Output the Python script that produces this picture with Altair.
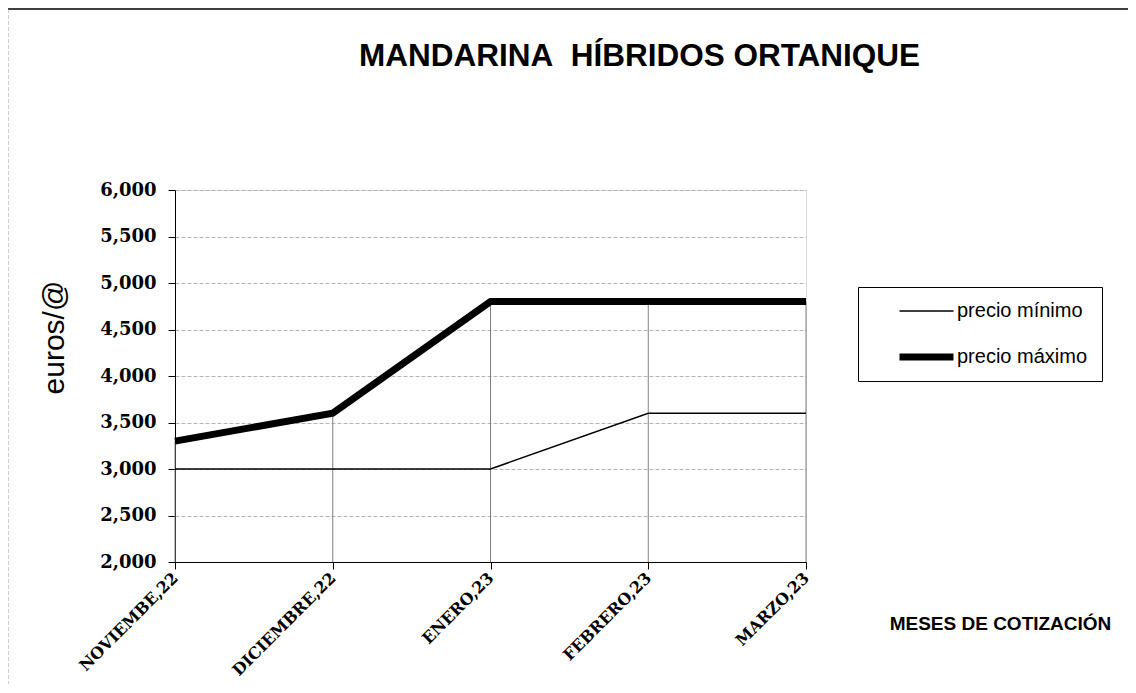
import altair as alt
import pandas as pd

meses = ["NOVIEMBE,22", "DICIEMBRE,22", "ENERO,23", "FEBRERO,23", "MARZO,23"]
precio_minimo = [3.0, 3.0, 3.0, 3.6, 3.6]
precio_maximo = [3.3, 3.6, 4.8, 4.8, 4.8]
series = ["precio mínimo", "precio máximo"]
y_ticks = [2.0, 2.5, 3.0, 3.5, 4.0, 4.5, 5.0, 5.5, 6.0]

rows = []
for s, vals in zip(series, [precio_minimo, precio_maximo]):
    for m, v in zip(meses, vals):
        rows.append({"serie": s, "mes": m, "valor": v})
df = pd.DataFrame(rows)
drop_df = pd.DataFrame({"mes": meses, "valor": precio_maximo})

x_enc = alt.X(
    "mes:N",
    sort=meses,
    scale=alt.Scale(type="point", padding=0),
    axis=alt.Axis(
        title="MESES DE COTIZACIÓN",
        titleX=825, titleY=61, titleAlign="center", titleBaseline="middle",
        titleFont="Liberation Sans", titleFontSize=19, titleFontWeight="bold",
        titleColor="black",
        labelAngle=315, labelAlign="right", labelBaseline="middle",
        labelFont="DejaVu Serif", labelFontWeight="bold", labelFontSize=16,
        labelColor="black", labelPadding=6,
        domainColor="black", tickColor="black", tickSize=7,
        grid=False,
    ),
)
y_scale = alt.Scale(domain=[2.0, 6.0], nice=False, zero=False)
y_axis = alt.Axis(
    values=y_ticks,
    labelExpr="replace(format(datum.value, '.3f'), '.', ',')",
    labelFont="DejaVu Serif", labelFontWeight="bold", labelFontSize=18,
    labelColor="black", labelPadding=12,
    domainColor="black", tickColor="black", tickSize=7,
    grid=True, gridColor="#b4b4b4", gridDash=[4, 2],
    title="euros/@", titleX=-121, titleY=147, titleAngle=270,
    titleAlign="center", titleBaseline="middle",
    titleFont="Liberation Sans", titleFontSize=30, titleFontWeight="normal",
    titleColor="black",
)

drops = alt.Chart(drop_df).mark_rule(color="#808080", strokeWidth=1).encode(
    x=x_enc,
    y=alt.Y("valor:Q", scale=y_scale, axis=y_axis),
    y2=alt.datum(2.0),
)

lines = alt.Chart(df).mark_line(color="black", strokeCap="butt").encode(
    x=x_enc,
    y=alt.Y("valor:Q", scale=y_scale, axis=y_axis),
    strokeWidth=alt.StrokeWidth(
        "serie:O", sort=series,
        scale=alt.Scale(domain=series, range=[1.5, 7]),
        legend=alt.Legend(
            title=None, orient="none", legendX=683, legendY=97,
            symbolType="stroke", symbolSize=2916, symbolStrokeColor="black",
            labelFont="Liberation Sans", labelFontSize=20, labelColor="black",
            labelOffset=0, symbolOffset=24,
            clipHeight=20, rowPadding=26,
            strokeColor="black", fillColor="white", padding=14,
        ),
    ),
)

top_border = alt.Chart(pd.DataFrame({"a": [0]})).mark_rule(color="black", strokeWidth=1.5).encode(
    x=alt.value(-167), x2=alt.value(953), y=alt.value(-181)
)
left_border = alt.Chart(pd.DataFrame({"a": [0]})).mark_rule(color="#a0a0a0", strokeDash=[4, 2]).encode(
    x=alt.value(-167), y=alt.value(-181), y2=alt.value(500)
)

chart = alt.layer(drops, lines, top_border, left_border).properties(
    width=631, height=372,
    title=alt.TitleParams(
        "MANDARINA\u00a0 HÍBRIDOS ORTANIQUE",
        font="Liberation Sans", fontSize=31.5, fontWeight="bold", color="black",
        anchor="middle", frame="group", dx=149, offset=0, dy=64,
    ),
    autosize=alt.AutoSizeParams(type="none"),
    padding={"left": 167, "top": 182, "right": 322, "bottom": 122},
).configure_view(stroke=None).configure(background="white")

chart.save("out.html", embed_options={"renderer": "svg", "actions": False})
